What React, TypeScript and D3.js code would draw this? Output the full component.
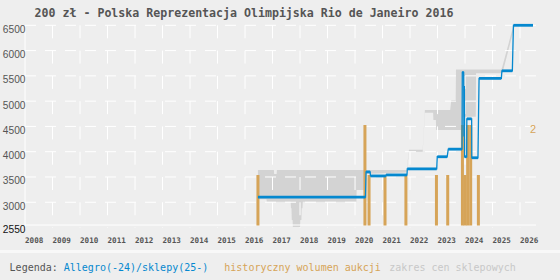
import React from 'react';
import * as d3 from 'd3';

const W = 560;
const H = 280;

const titleText = '200 zł - Polska Reprezentacja Olimpijska Rio de Janeiro 2016';
const yearTicks = [2008, 2009, 2010, 2011, 2012, 2013, 2014, 2015, 2016, 2017, 2018, 2019, 2020, 2021, 2022, 2023, 2024, 2025, 2026];
const priceTicks = [2550, 3000, 3500, 4000, 4500, 5000, 5500, 6000, 6500];
const volumeTick = 2;

// Allegro price polyline (decimal year, zł)
const allegroDates = [
  2016.47, 2020.38, 2020.40, 2020.55, 2020.56, 2021.12, 2021.13, 2021.89, 2021.90, 2022.97,
  2022.99, 2023.35, 2023.39, 2023.89, 2023.90, 2023.95, 2023.96, 2023.975, 2023.985, 2024.06,
  2024.065, 2024.24, 2024.245, 2024.47, 2024.49, 2024.51, 2025.32, 2025.34, 2025.72, 2025.76, 2026.47,
];
const allegroPrices = [
  3100, 3100, 3600, 3600, 3520, 3520, 3540, 3540, 3660, 3660,
  3900, 3900, 4050, 4050, 5570, 5570, 4300, 5300, 3900, 3900,
  4650, 4650, 3880, 3880, 4700, 5450, 5450, 5600, 5600, 6500, 6500,
];

// shop price range band
const bandDates = [
  2016.47, 2016.78, 2016.79, 2017.05, 2017.06, 2017.15, 2017.16, 2017.66, 2017.67, 2017.69,
  2017.70, 2017.73, 2017.74, 2018.00, 2018.01, 2018.05, 2018.06, 2018.09, 2018.10, 2020.05,
  2020.06, 2020.32, 2020.33, 2021.88, 2021.96, 2022.46, 2022.54, 2022.84, 2022.85, 2022.94,
  2022.95, 2023.46, 2023.50, 2023.66, 2023.67, 2023.92, 2023.93, 2024.39, 2024.40, 2025.32,
  2025.36, 2025.76, 2025.80,
];
const bandHigh = [
  3640, 3640, 3640, 3640, 3560, 3560, 3640, 3640, 3640, 3640,
  3640, 3640, 3640, 3640, 3640, 3640, 3640, 3640, 3640, 3640,
  3640, 3640, 3640, 3640, 4040, 4040, 4823, 4823, 4823, 4823,
  4823, 4823, 5020, 5020, 5627, 5627, 5627, 5627, 5627, 5627,
  5690, 6500, 6500,
];
const bandLow = [
  3060, 3060, 3010, 3010, 3010, 3010, 3010, 3010, 2880, 2880,
  2650, 2650, 2500, 2500, 2650, 2650, 2880, 2880, 3010, 3010,
  3240, 3240, 3560, 3590, 4000, 4000, 4770, 4770, 4625, 4625,
  4427, 4427, 4427, 4427, 4427, 4427, 4690, 4690, 5550, 5550,
  5550, 6390, 6480,
];

// historical auction volume
const volumeDates = [2016.47, 2020.36, 2020.51, 2021.09, 2021.85, 2022.96, 2023.37, 2023.905, 2024.0, 2024.095, 2024.205, 2024.485];
const volumeCounts = [1, 2, 1, 1, 1, 1, 1, 2, 1, 2, 2, 1];

const BLUE = '#0588cf';
const ORANGE = '#d6a458';
const BAND = '#d3d3d3';
const GRID = '#ffffff';
const BG = '#eeeeee';

export default function App() {
  const x = d3.scaleLinear().domain([2008, 2026.58]).range([25, 536]);
  const y = d3.scaleLinear().domain([2550, 6500]).range([225, 25.3]);
  const v = d3.scaleLinear().domain([0, 2]).range([225, 125]);

  const bandData = bandDates.map((d, i) => ({ d, hi: bandHigh[i], lo: bandLow[i] }));
  const area = d3
    .area<{ d: number; hi: number; lo: number }>()
    .x((p) => x(p.d))
    .y0((p) => y(p.lo))
    .y1((p) => y(p.hi));

  const pts = allegroDates.map((d, i) => ({ d, p: allegroPrices[i] }));
  const line = d3
    .line<{ d: number; p: number }>()
    .x((q) => x(q.d))
    .y((q) => y(q.p));

  const levels: { x1: number; x2: number; yy: number }[] = [];
  for (let i = 0; i < pts.length - 1; i++) {
    if (pts[i].p === pts[i + 1].p) {
      levels.push({ x1: x(pts[i].d), x2: x(pts[i + 1].d), yy: y(pts[i].p) });
    }
  }

  const [x0, x1] = x.range();
  const yTop = y(6500);
  const yBot = y(2550);
  const barW = 3;
  const mono = "'DejaVu Sans Mono', monospace";
  const sans = "'Liberation Sans', Arial, sans-serif";

  return (
    <svg
      width={W}
      height={H}
      viewBox={`0 0 ${W} ${H}`}
      style={{ position: 'absolute', left: 0, top: 0, display: 'block' }}
    >
      <defs>
        <clipPath id="plotClip">
          <rect x={x0} y={yTop - 2} width={x1 - x0} height={yBot - yTop + 4} />
        </clipPath>
      </defs>
      <rect x={0} y={0} width={W} height={H} fill={BG} />
      <rect x={0} y={250} width={W} height={3} fill="#f8f8f8" />

      <text x={34.6} y={17} fontFamily={mono} fontWeight="bold" fontSize={11.6} fill="#555">
        {titleText}
      </text>

      {/* band */}
      <path d={area(bandData) || ''} fill={BAND} clipPath="url(#plotClip)" />

      {/* grid */}
      {priceTicks.map((t) => (
        <line
          key={'h' + t}
          x1={x0}
          x2={x1}
          y1={y(t)}
          y2={y(t)}
          stroke={GRID}
          strokeWidth={1}
          strokeDasharray={t === 2550 ? undefined : '11 9'}
        />
      ))}
      {yearTicks.slice(1).map((t) => (
        <line
          key={'v' + t}
          x1={x(t)}
          x2={x(t)}
          y1={yTop}
          y2={yBot + 3}
          stroke={GRID}
          strokeWidth={1}
          strokeDasharray="13 12.28"
        />
      ))}
      <line x1={x0} x2={x0} y1={yTop} y2={yBot + 4} stroke={GRID} strokeWidth={1} />

      {/* volume bars */}
      {volumeDates.map((d, i) => (
        <rect
          key={'b' + i}
          x={x(d) - barW / 2}
          y={v(volumeCounts[i])}
          width={barW}
          height={v(0) - v(volumeCounts[i]) + 0.5}
          fill={ORANGE}
        />
      ))}

      {/* allegro line */}
      <path d={line(pts) || ''} fill="none" stroke={BLUE} strokeWidth={1.3} />
      {levels.map((l, i) => (
        <line key={'l' + i} x1={l.x1} x2={l.x2} y1={l.yy} y2={l.yy} stroke={BLUE} strokeWidth={2.8} />
      ))}

      {/* y labels */}
      {priceTicks.map((t) => (
        <text
          key={'yl' + t}
          x={25.5}
          y={y(t) + 7.5}
          textAnchor="end"
          fontFamily={sans}
          fontSize={10.2}
          fill={t === 2550 ? '#111' : '#555'}
        >
          {t}
        </text>
      ))}
      <text x={530} y={v(volumeTick) + 8} fontFamily={sans} fontSize={11} fill={ORANGE}>
        {volumeTick}
      </text>

      {/* x labels */}
      {yearTicks.map((t) => (
        <text key={'xl' + t} x={x(t)} y={242.7} fontFamily={mono} fontWeight="bold" fontSize={7.6} fill="#555">
          {t}
        </text>
      ))}

      {/* legend */}
      <text y={271} fontFamily={mono} fontSize={10} xmlSpace="preserve">
        <tspan x={9.6} fill="#555">Legenda: </tspan>
        <tspan fill={BLUE}>Allegro(-24)/sklepy(25-)</tspan>
        <tspan x={224.3} fill={ORANGE}>historyczny wolumen aukcji</tspan>
        <tspan x={389.3} fill="#c8c8c8">zakres cen sklepowych</tspan>
      </text>
    </svg>
  );
}
